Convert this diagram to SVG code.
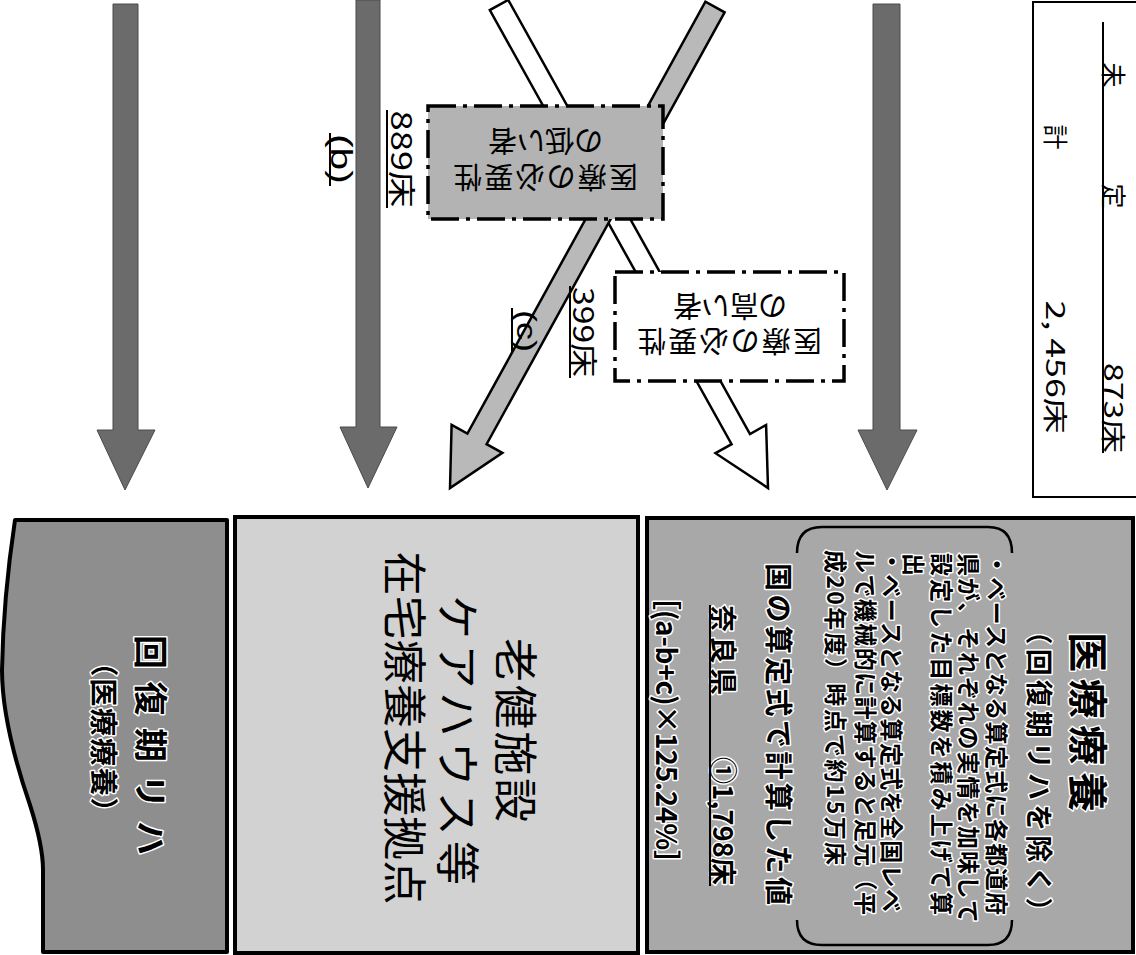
<svg xmlns="http://www.w3.org/2000/svg" width="1136" height="955" viewBox="0 0 1136 955">
<style>
text { font-family: "Noto Sans CJK JP", "Noto Sans", sans-serif; fill: #000; dominant-baseline: central; }
.lat { font-family: "Liberation Sans", "Noto Sans", sans-serif; }
.c { text-anchor: middle; }
.s { text-anchor: start; }
.b { font-weight: bold; }
.halo { stroke: #fff; stroke-width: 3; paint-order: stroke; stroke-linejoin: round; }
.darrow { fill: #6b6b6b; stroke: #4a4a4a; stroke-width: 1; }
.frame { stroke: #000; stroke-width: 4; }
.dd { stroke: #000; stroke-width: 3.5; stroke-dasharray: 28 7 4 7; }
.ul { stroke: #000; stroke-width: 2; }
</style>

<g id="connectors">
  <polygon class="darrow" points="113,4 138,4 138,430 155,430 125,490 97,430 113,430"/>
  <polygon class="darrow" points="356,0 380,0 380,427 397,427 368,488 340,427 356,427"/>
  <polygon class="darrow" points="873,4 900,4 900,430 917,430 887,490 858,430 873,430"/>
  <polygon id="arrow-white" fill="#fff" stroke="#000" stroke-width="2.5" stroke-linejoin="miter"
    points="508.2,-0.1 750.0,434.0 766.1,425.0 768,488 715.5,453.2 731.6,444.2 489.8,10.1"/>
  <polygon id="arrow-gray" fill="#b9b9b9" stroke="#000" stroke-width="2.5" stroke-linejoin="miter"
    points="724.6,12.3 486.6,444.2 502.4,452.9 450,488 451.6,424.9 467.4,433.6 705.4,1.7"/>
</g>

<g id="label-b">
  <text class="c lat" font-size="30" transform="translate(341,159) rotate(90)" textLength="50" lengthAdjust="spacingAndGlyphs">(b)</text>
  <line class="ul" x1="330" y1="133" x2="330" y2="186"/>
</g>
<g id="label-889">
  <text class="c" font-size="28" transform="translate(403,159) rotate(90)" textLength="97" lengthAdjust="spacingAndGlyphs">889床</text>
  <line class="ul" x1="387" y1="110" x2="387" y2="208"/>
</g>
<g id="label-c">
  <text class="c lat" font-size="28" transform="translate(526,331) rotate(90)" textLength="42" lengthAdjust="spacingAndGlyphs">(c)</text>
  <line class="ul" x1="512" y1="308" x2="512" y2="353"/>
</g>
<g id="label-399">
  <text class="c" font-size="28" transform="translate(585,332) rotate(90)" textLength="90" lengthAdjust="spacingAndGlyphs">399床</text>
  <line class="ul" x1="570" y1="286" x2="570" y2="378"/>
</g>

<g id="box-low">
  <rect x="428" y="106" width="235" height="113" fill="#b3b3b3" class="dd"/>
  <text class="c" font-size="29" transform="translate(545.5,179) rotate(180)" textLength="185">医療の必要性</text>
  <text class="c" font-size="29" transform="translate(545.5,143) rotate(180)" textLength="115">の低い者</text>
</g>

<g id="box-high">
  <rect x="615" y="272" width="229" height="109" fill="#fff" class="dd"/>
  <text class="c" font-size="29" transform="translate(729.5,343) rotate(180)" textLength="185">医療の必要性</text>
  <text class="c" font-size="29" transform="translate(730,308) rotate(180)" textLength="114">の高い者</text>
</g>

<g id="box-total">
  <rect x="1033" y="2" width="115" height="495" fill="#fff" stroke="#000" stroke-width="2"/>
  <line class="ul" x1="1103" y1="22" x2="1103" y2="453"/>
  <text class="c" font-size="25" transform="translate(1115,75) rotate(90)">未</text>
  <text class="c" font-size="25" transform="translate(1115,196) rotate(90)">定</text>
  <text class="c" font-size="25" transform="translate(1115,408) rotate(90)" textLength="90" lengthAdjust="spacingAndGlyphs">873床</text>
  <text class="c" font-size="25" transform="translate(1057,137) rotate(90)">計</text>
  <text class="c" font-size="25" transform="translate(1057,367) rotate(90)" textLength="133" lengthAdjust="spacingAndGlyphs">2, 456床</text>
</g>

<g id="box-medical">
  <rect x="647" y="518" width="486" height="434" fill="#a8a8a8" class="frame"/>
  <path d="M797,553 Q797,527 822,527 L988,527 Q1012,527 1012,553" fill="none" stroke="#000" stroke-width="2.5"/>
  <path d="M797,920 Q797,945 822,945 L988,945 Q1012,945 1012,920" fill="none" stroke="#000" stroke-width="2.5"/>
  <text class="c b halo" font-size="40" transform="translate(1090,722) rotate(90)" textLength="180">医療療養</text>
  <text class="c b halo" font-size="27" transform="translate(1040,771) rotate(90)" textLength="307">（回復期リハを除く）</text>
  <text class="s b halo" font-size="23" transform="translate(998,553) rotate(90)" textLength="362">・ベースとなる算定式に各都道府</text>
  <text class="s b halo" font-size="23" transform="translate(970,553) rotate(90)" textLength="370">県が、それぞれの実情を加味して</text>
  <text class="s b halo" font-size="23" transform="translate(943,553) rotate(90)" textLength="362">設定した目標数を積み上げて算</text>
  <text class="s b halo" font-size="23" transform="translate(915,553) rotate(90)">出</text>
  <text class="s b halo" font-size="23" transform="translate(893,550) rotate(90)" textLength="362">・ベースとなる算定式を全国レベ</text>
  <text class="s b halo" font-size="23" transform="translate(867,550) rotate(90)" textLength="365">ルで機械的に計算すると足元（平</text>
  <text class="s b halo" font-size="23" transform="translate(837,550) rotate(90)" textLength="315">成20年度）時点で約15万床</text>
  <text class="c b halo" font-size="28" transform="translate(780,734) rotate(90)" textLength="342">国の算定式で計算した値</text>
  <text class="s b halo" font-size="27" transform="translate(724,605) rotate(90)" textLength="90">奈良県</text>
  <text class="s b halo" font-size="27" transform="translate(724,757) rotate(90)" textLength="128">①1,798床</text>
  <line class="ul" x1="710" y1="605" x2="710" y2="886"/>
  <text class="s b halo" font-size="28" transform="translate(668,582) rotate(90)" textLength="296">［(a-b+c)×125.24%］</text>
</g>

<g id="box-roken">
  <rect x="235" y="517" width="403" height="436" fill="#d2d2d2" class="frame"/>
  <text class="c" font-size="44" transform="translate(518,730) rotate(90)" textLength="184">老健施設</text>
  <text class="c" font-size="44" transform="translate(460,740) rotate(90)" textLength="290">ケアハウス等</text>
  <text class="c" font-size="44" transform="translate(407,728) rotate(90)" textLength="353">在宅療養支援拠点</text>
</g>

<g id="box-rehab">
  <path d="M15,520 C9,560 3,610 2,670 C2,715 18,770 30,805 C38,830 43,850 43,870 L43,952 L227,952 L227,520 Z" fill="#8e8e8e" class="frame" stroke-linejoin="round"/>
  <text class="c b halo" font-size="34" transform="translate(152,745) rotate(90)" textLength="220">回復期リハ</text>
  <text class="c b halo" font-size="28" transform="translate(105,737) rotate(90)" textLength="177">（医療療養）</text>
</g>
</svg>
